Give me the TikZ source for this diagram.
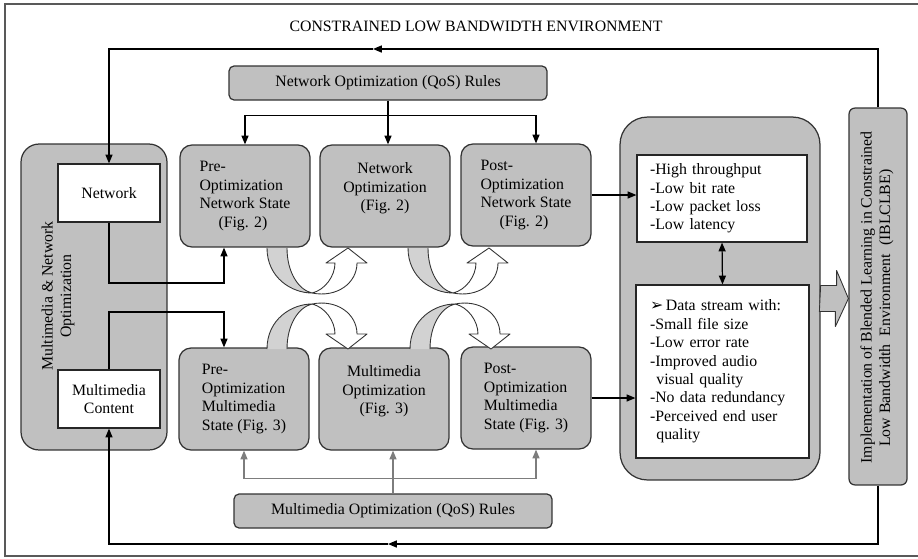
\documentclass[tikz,border=0pt]{standalone}
\usepackage{fontspec}
\setmainfont{Liberation Serif}
\newfontfamily\symfont{DejaVu Sans}
\usetikzlibrary{arrows.meta,calc}

\definecolor{boxgray}{RGB}{192,192,192}
\definecolor{bandgray}{RGB}{210,210,210}
\definecolor{rulegray}{RGB}{125,125,125}

\tikzset{
  stage/.style={draw=black!80, fill=boxgray, rounded corners=0.24cm,
    minimum width=2.6cm, minimum height=2.04cm, inner sep=2pt},
  bigbox/.style={draw=black!80, fill=boxgray},
  whitebox/.style={draw=black!85, fill=white, align=center,
    minimum width=2.04cm, minimum height=1.16cm},
  rulebox/.style={draw=black!80, fill=boxgray, rounded corners=0.1cm,
    minimum width=6.36cm, minimum height=0.68cm},
  listbox/.style={draw=black!85, fill=white, align=left, inner ysep=2pt},
  band/.style={draw=black!80, line width=0.5pt, line join=round}
}

% twisted u-turn arrow, origin at the left edge of the band
\newcommand{\twistarrow}[3]{%
  \begin{scope}[shift={(#1,#2)}, yscale=#3]
    \filldraw[band, fill=bandgray] (0,0) .. controls (0,30) and (25,45) .. (45,45)
      .. controls (32,42) and (20,25) .. (20,0);
    \filldraw[band, fill=white] (45,45) .. controls (58,42) and (68,28) .. (68,15)
      -- (59,15) -- (81,0) -- (100,15) -- (90,15)
      .. controls (90,35) and (70,50) .. (45,45);
  \end{scope}}

\begin{document}
\begin{tikzpicture}[x=0.02cm, y=-0.02cm, line width=0.7pt,
  >={Triangle[length=5pt,width=4pt]},
  every node/.style={font=\fontsize{9}{10.5}\selectfont}]
  \useasboundingbox (0,0) rectangle (918,558);

  % frame and title
  \draw[black!65] (918,4) -- (5,4) -- (5,556) -- (918,556);
  \node (title) at (476,26) {CONSTRAINED LOW BANDWIDTH ENVIRONMENT};

  % left block
  \node[bigbox, rounded corners=0.36cm, minimum width=2.92cm, minimum height=6.12cm] (mno) at (94,297) {};
  \node[whitebox] (net) at (109,193) {Network};
  \node[whitebox] (mmc) at (109,399) {Multimedia\\Content};
  \node[rotate=90, align=center] (mnotext) at (58,296) {Multimedia \& Network\\Optimization};

  % rules
  \node[rulebox] (nrules) at (388,83) {Network Optimization (QoS) Rules};
  \node[rulebox] (mrules) at (393,511) {Multimedia Optimization (QoS) Rules};

  % optimization stages
  \node[stage, align=left] (prenet) at (245,196) {Pre-\\Optimization\\Network State\\\hspace*{1.2em}(Fig. 2)};
  \node[stage, align=center] (netopt) at (385,196) {Network\\Optimization\\(Fig. 2)\\\mbox{}};
  \node[stage, align=left] (postnet) at (526,195) {Post-\\Optimization\\Network State\\\hspace*{1.2em}(Fig. 2)};
  \node[stage, align=left] (premm) at (244,399) {Pre-\\Optimization\\Multimedia\\State (Fig. 3)};
  \node[stage, align=center] (mmopt) at (384,399) {Multimedia\\Optimization\\(Fig. 3)\\\mbox{}};
  \node[stage, align=left] (postmm) at (526,398) {Post-\\Optimization\\Multimedia\\State (Fig. 3)};

  % results
  \node[bigbox, rounded corners=0.55cm, minimum width=4cm, minimum height=7.26cm] (rbox) at (720,298.5) {};
  \node[listbox, text width=2.88cm, inner xsep=0.26cm, minimum height=1.74cm] (qos1) at (722,198.5)
    {-High throughput\\-Low bit rate\\-Low packet loss\\-Low latency};
  \node[listbox, text width=2.9cm, inner xsep=0.28cm, minimum height=3.46cm] (qos2) at (722.5,371.5)
    {{\symfont\small ➢}\,Data stream with:\\-Small file size\\-Low error rate\\-Improved audio\\\hspace*{0.4em}visual quality\\-No data redundancy\\-Perceived end user\\\hspace*{0.4em}quality};

  % implementation
  \node[bigbox, rounded corners=0.12cm, minimum width=1.16cm, minimum height=7.54cm] (impl) at (878,296.5) {};
  \node[rotate=90, align=left] (impltext) at (877,297.5)
    {Implementation of Blended Learning in Constrained\\\hspace*{1.05em}Low Bandwidth\ \ Environment\ \ (IBLCLBE)};

  % feedback loop
  \coordinate (topmid) at (373,49);
  \coordinate (botmid) at (388,544);
  \draw[->] (impl.north) |- (topmid);
  \draw[->] (topmid) -| (net.north);
  \draw[->] (impl.south) |- (botmid);
  \draw[->] (botmid) -| (mmc.south);

  % inputs
  \coordinate (njoin) at (224,283);
  \coordinate (mjoin) at (224,312);
  \draw[->] (net.south) |- (njoin) -- (njoin |- prenet.south);
  \draw[->] (mmc.north) |- (mjoin) -- (mjoin |- premm.north);

  % network rules
  \coordinate (nsplit) at ($(nrules.south)+(0,15)$);
  \draw[->] (nrules.south) -- (nrules.south |- netopt.north);
  \draw[->] (nsplit) -| (prenet.north);
  \draw[->] (nsplit) -| ($(postnet.north)+(10,0)$);

  % multimedia rules
  \coordinate (msplit) at ($(mrules.north)+(0,-15)$);
  \draw[->, rulegray] (mrules.north) -- (mrules.north |- mmopt.south);
  \draw[->, rulegray] (msplit) -| (premm.south);
  \draw[->, rulegray] (msplit) -| ($(postmm.south)+(10,0)$);

  % stage transitions
  \twistarrow{267}{248}{1}
  \twistarrow{408}{248}{1}
  \twistarrow{267}{349}{-1}
  \twistarrow{410}{349}{-1}

  % outputs
  \draw[->] (postnet.east) -- (postnet.east -| qos1.west);
  \draw[->] (postmm.east) -- (postmm.east -| qos2.west);
  \draw[<->] (qos1.south) -- (qos2.north);

  % block arrow to implementation
  \coordinate (btip) at (rbox.east -| impl.west);
  \filldraw[band, fill=boxgray] ($(rbox.east)+(0,-13)$) -- ++(16,0) -- ++(0,-15) -- (btip)
    -- ++(-13,28) -- ++(0,-15) -- ++(-16,0) -- cycle;
\end{tikzpicture}
\end{document}
